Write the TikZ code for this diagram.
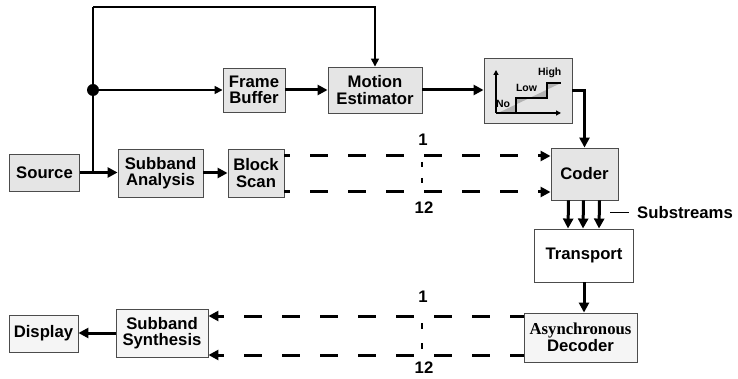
\documentclass[tikz,border=0pt]{standalone}
\usepackage{fontspec}
\setmainfont{Liberation Sans}
\newfontfamily\timesbf{Liberation Serif}
\usetikzlibrary{arrows.meta}
\definecolor{BoxGray}{gray}{0.9}
\definecolor{PaleGray}{gray}{0.96}
\definecolor{StepGray}{gray}{0.7}

\begin{document}
\begin{tikzpicture}[x=1pt,y=-1pt,
  box/.style={draw=black!70,line width=.9pt,fill=BoxGray,inner sep=0pt,align=center,
    font=\fontsize{16.7}{16.5}\selectfont\bfseries},
  pale/.style={box,fill=PaleGray},
  thin/.style={line width=1.6pt},
  thinarrow/.style={thin,-{Triangle[length=8pt,width=8pt]}},
  heavy/.style={line width=3pt,-{Triangle[length=10pt,width=10pt]}},
  dline/.style={line width=3pt,dash pattern=on 18pt off 20pt,-{Triangle[length=10pt,width=10pt]}},
  tag/.style={font=\fontsize{16.7}{16}\selectfont\bfseries,inner sep=0pt},
  small/.style={font=\fontsize{10.5}{10.5}\selectfont\bfseries,inner sep=0pt}]
\useasboundingbox (0,0) rectangle (738,379);
\def\dotsize{6pt}

% sender side
\node[box,minimum width=70pt,minimum height=37pt] (src) at (44.5,172.5) {Source};
\node[box,minimum width=85pt,minimum height=48pt] (sba) at (160.5,173) {Subband\\Analysis};
\node[box,minimum width=56pt,minimum height=48pt] (bsc) at (256,173) {Block\\Scan};
\node[box,minimum width=62pt,minimum height=44pt] (fbuf) at (254,90) {Frame\\Buffer};
\node[box,minimum width=94pt,minimum height=46pt] (mest) at (375,90) {Motion\\Estimator};
\node[box,minimum width=88pt,minimum height=65pt] (qgraph) at (528,90.5) {};
\node[box,minimum width=67pt,minimum height=52pt] (coder) at (584.5,174) {Coder};

% receiver side
\node[box,fill=white,minimum width=99pt,minimum height=53pt] (transport) at (584,255.5) {Transport};
\node[pale,minimum width=113pt,minimum height=49pt] (adec) at (580.5,337.5)
  {{\timesbf Asynchronous}\\Decoder};
\node[pale,minimum width=92pt,minimum height=48pt] (sbs) at (162,333) {Subband\\Synthesis};
\node[pale,minimum width=69pt,minimum height=37pt] (disp) at (43.5,333.5) {Display};

% quantiser graph
\coordinate (orig) at (496,113);
\fill[StepGray] (498,113) -- (516,113) -- (516,98) -- (547,98) -- (547,83) -- (561,83) -- cycle;
\draw[line width=1.4pt] (orig) -- (516,113) -- (516,98) -- (547,98) -- (547,83) -- (561,83);
\draw[line width=1.3pt,-{Triangle[length=5pt,width=5pt]}] (orig) -- (496,70);
\draw[line width=1.3pt,-{Triangle[length=5pt,width=5pt]}] (orig) -- (561,113);
\node[small] (lno) at (503,103.5) {No};
\node[small] (llow) at (526.5,88) {Low};
\node[small] (lhigh) at (549.7,72.7) {High};

% feed lines
\coordinate (tap) at (93,172.5);
\coordinate (dot) at (93,90);
\coordinate (top) at (93,7);
\draw[heavy] (src.east) -- (src.east -| sba.west);
\draw[thin] (tap) -- (top);
\draw[thinarrow] (top) -| (mest.north);
\draw[thinarrow] (dot) -- (fbuf.west);
\fill (dot) circle[radius=\dotsize];
\draw[heavy] (sba.east) -- (sba.east -| bsc.west);
\draw[heavy] (fbuf.east) -- (fbuf.east -| mest.west);
\draw[heavy] (mest.east) -- (mest.east -| qgraph.west);
\draw[heavy] (qgraph.east) -| (coder.north);

% parallel subbands
\foreach \yy in {156,192}
  \draw[dline,dash phase=12pt] (bsc.east |- 0,\yy) -- (coder.west |- 0,\yy);
\foreach \yy in {316,355}
  \draw[dline,dash phase=4pt] (adec.west |- 0,\yy) -- (sbs.east |- 0,\yy);
\coordinate (va) at (422,156);
\coordinate (vb) at (422,192);
\coordinate (vc) at (422,316);
\coordinate (vd) at (422,355);
\draw[line width=2.8pt,dash pattern=on 5.5pt off 10.5pt,dash phase=10pt] (va) -- (vb);
\draw[line width=2.8pt,dash pattern=on 5.5pt off 14.5pt,dash phase=13pt] (vc) -- (vd);
\node[tag] (na) at (423,140) {1};
\node[tag] (nb) at (424,208) {12};
\node[tag] (nc) at (423,297) {1};
\node[tag] (nd) at (424,368) {12};

% substreams and channel
\foreach \dx in {-16,-1,15}
  \draw[heavy] ([xshift=\dx pt]coder.south) -- ([xshift=\dx pt]transport.north);
\coordinate (subtick) at (610,213);
\node[tag,anchor=west] (sublabel) at (637,213) {Substreams};
\draw[line width=1pt] (subtick) -- ([xshift=-8pt]sublabel.west);
\draw[heavy] (transport.south) -- (transport.south |- adec.north);
\draw[heavy] (sbs.west) -- (sbs.west -| disp.east);

\end{tikzpicture}
\end{document}
